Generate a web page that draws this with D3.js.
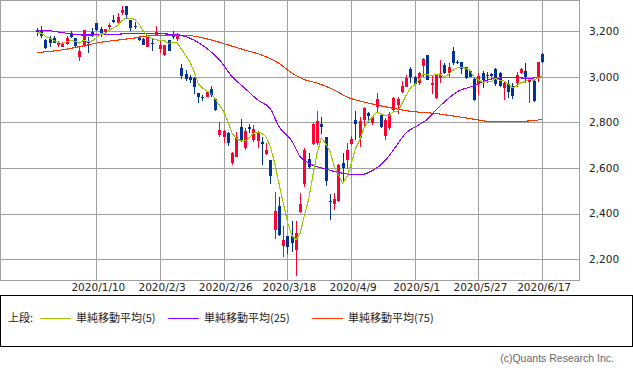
<!DOCTYPE html>
<html lang="ja">
<head>
<meta charset="utf-8">
<title>単純移動平均チャート</title>
<script src="https://cdn.jsdelivr.net/npm/d3@7"></script>
<style>
  body { margin: 0; background: #fff; }
  .axis text { font-family: "DejaVu Sans"; font-size: 10.5px; fill: #222; }
  .grid line { stroke: #a0a0a0; shape-rendering: crispEdges; }
  .frame { fill: none; stroke: #a0a0a0; shape-rendering: crispEdges; }
  .ma { fill: none; stroke-width: 1.1; shape-rendering: crispEdges; }
  .legend text { font-family: "Noto Sans CJK JP"; font-size: 11px; fill: #222; }
  .copy { font-family: "Liberation Sans"; font-size: 10.5px; fill: #666; }
</style>
</head>
<body>
<script>
// trading days (categories)
var dates = [
  "2019/12/17","2019/12/18","2019/12/19","2019/12/20","2019/12/23","2019/12/24","2019/12/25","2019/12/26","2019/12/27","2019/12/30",
  "2020/1/6","2020/1/7","2020/1/8","2020/1/9","2020/1/10","2020/1/14","2020/1/15","2020/1/16","2020/1/17","2020/1/20",
  "2020/1/21","2020/1/22","2020/1/23","2020/1/24","2020/1/27","2020/1/28","2020/1/29","2020/1/30","2020/1/31",
  "2020/2/3","2020/2/4","2020/2/5","2020/2/6","2020/2/7","2020/2/10","2020/2/12","2020/2/13","2020/2/14","2020/2/17",
  "2020/2/18","2020/2/19","2020/2/20","2020/2/21","2020/2/25","2020/2/26","2020/2/27","2020/2/28",
  "2020/3/2","2020/3/3","2020/3/4","2020/3/5","2020/3/6","2020/3/9","2020/3/10","2020/3/11","2020/3/12","2020/3/13",
  "2020/3/16","2020/3/17","2020/3/18","2020/3/19","2020/3/23","2020/3/24","2020/3/25","2020/3/26","2020/3/27","2020/3/30","2020/3/31",
  "2020/4/1","2020/4/2","2020/4/3","2020/4/6","2020/4/7","2020/4/8","2020/4/9","2020/4/10","2020/4/13","2020/4/14",
  "2020/4/15","2020/4/16","2020/4/17","2020/4/20","2020/4/21","2020/4/22","2020/4/23","2020/4/24","2020/4/27","2020/4/28","2020/4/30",
  "2020/5/1","2020/5/7","2020/5/8","2020/5/11","2020/5/12","2020/5/13","2020/5/14","2020/5/15","2020/5/18","2020/5/19",
  "2020/5/20","2020/5/21","2020/5/22","2020/5/25","2020/5/26","2020/5/27","2020/5/28","2020/5/29",
  "2020/6/1","2020/6/2","2020/6/3","2020/6/4","2020/6/5","2020/6/8","2020/6/9","2020/6/10","2020/6/11","2020/6/12",
  "2020/6/15","2020/6/16","2020/6/17"
];

var opens = [3208,3203,3164,3168,3169,3141,3133,3143,3188,3171, 3088,3135,3154,3197,3236,3209,3197,3218,3250,3238,
  3279,3311,3250,3224,3174,3168,3133,3150,3186,3121, 3096,3162,3186,3168,3039,3011,2999,2996,2928,2911,
  2914,2946,2902,2746,2735,2753,2624,2650,2779,2687, 2782,2724,2720,2716,2662,2633,2329,2434,2259,2300,
  2303,2238,2405,2531,2639,2705,2710,2794,2735,2456, 2440,2453,2624,2636,2706,2811,2731,2811,2841,2797,
  2870,2833,2741,2775,2855,2877,2936,2958,3034,3001, 2972,3048,3096,2965,2906,2994,3053,3016,3115,3067,
  3064,3042,3028,2990,2972,3019,3010,3012,3034,3018, 2950,2967,2960,2972,3017,3028,2976,2980,3001,3101];
var highs = [3214,3224,3166,3180,3180,3157,3152,3180,3203,3172, 3132,3208,3174,3214,3238,3220,3211,3235,3273,3279,
  3311,3313,3252,3241,3180,3170,3176,3165,3224,3162, 3140,3164,3200,3192,3058,3032,3007,2998,2930,2921,
  2940,2960,2904,2800,2765,2760,2670,2756,2814,2775, 2792,2791,2763,2735,2709,2635,2496,2472,2344,2302,
  2365,2365,2490,2687,2665,2797,2852,2823,2737,2487, 2490,2616,2665,2709,2742,2852,2826,2870,2848,2829,
  2928,2836,2819,2848,2910,2914,2984,3009,3045,3005, 3023,3082,3098,3004,3012,3074,3060,3060,3133,3075,
  3067,3045,3030,3001,3016,3025,3020,3016,3040,3022, 2980,2988,2975,3020,3040,3063,2993,2990,3064,3103];
var lows = [3178,3172,3122,3132,3147,3130,3131,3139,3170,3132, 3072,3133,3107,3177,3204,3177,3195,3209,3235,3236,
  3270,3256,3203,3209,3156,3140,3131,3115,3180,3104, 3094,3113,3168,3159,2993,2984,2972,2926,2884,2896,
  2912,2914,2850,2735,2709,2697,2614,2648,2716,2680, 2753,2715,2687,2614,2658,2528,2290,2300,2209,2222,
  2231,2127,2403,2516,2595,2700,2700,2750,2519,2373, 2417,2450,2534,2595,2700,2724,2694,2782,2797,2790,
  2841,2777,2724,2767,2850,2838,2928,2955,2972,2965, 2965,3001,2985,2925,2903,2972,3014,3001,3053,3055,
  3013,2990,2998,2896,2921,2950,2972,3000,2962,2958, 2899,2906,2902,2958,3014,2975,2887,2890,2979,3062];
var closes = [3198,3181,3125,3148,3151,3152,3150,3171,3177,3134, 3114,3206,3147,3190,3206,3193,3209,3227,3241,3264,
  3294,3273,3215,3221,3163,3142,3174,3145,3197,3139, 3139,3115,3177,3183,3004,2991,2986,2958,2912,2906,
  2935,2920,2853,2768,2763,2712,2668,2735,2724,2763, 2773,2770,2752,2706,2677,2563,2412,2307,2285,2251,
  2270,2314,2443,2677,2604,2794,2806,2782,2545,2449, 2463,2614,2599,2677,2729,2794,2808,2863,2829,2822,
  2902,2779,2811,2838,2906,2902,2961,2994,3001,2969, 3016,3077,2987,2972,3009,3019,3016,3042,3060,3060,
  3034,2994,3001,2899,3004,2988,3002,3006,2968,2962, 2974,2936,2918,3009,3036,3000,2985,2896,3064,3067];
// the four closes before the first visible day (needed for the 5-day average)
var priorCloses = [3185, 3195, 3190, 3200];

// 25 / 75 day averages (trading-day index, value)
var ma25At = [0,3,7,11,15,19,24,28,32,34,37,40,43,46,49,52,55,57,60,62,64,68,72,76,79,82,84,87,90,92,94,96,99,103,105,108,112,116,119];
var ma25Values = [3206,3203,3192,3184,3185,3188,3191,3190,3187,3183,3162,3126,3075,3001,2950,2899,2860,2782,2720,2650,2622,2595,2577,2570,2588,2632,2680,2755,2790,2814,2855,2890,2935,2962,2980,2994,2997,2994,3001];
var ma75At = [0,3,7,11,15,19,23,26,30,35,38,41,45,49,53,57,60,63,66,70,73,77,81,84,88,93,98,103,107,112,117,119];
var ma75Values = [3107,3112,3122,3137,3152,3162,3171,3180,3183,3183,3176,3163,3141,3118,3096,3060,3018,2988,2973,2943,2912,2890,2873,2862,2849,2841,2829,2814,2804,2804,2808,2814];

var xTickLabels = ["2020/1/10","2020/2/3","2020/2/26","2020/3/18","2020/4/9","2020/5/1","2020/5/27","2020/6/17"];
var yTicks = [2200, 2400, 2600, 2800, 3000, 3200];
var legendNames = ["単純移動平均(5)", "単純移動平均(25)", "単純移動平均(75)"];
var maColors = ["#99cc00", "#9900ff", "#ff3300"];
var upColor = "#ff0033", downColor = "#003399";

var w = 633, h = 374;
var plotW = 579, plotH = 280;

var svg = d3.select("body").append("svg")
    .attr("width", w)
    .attr("height", h);

svg.append("rect").attr("width", w).attr("height", h).attr("fill", "#fff");

var x = d3.scalePoint()
    .domain(dates)
    .range([0, plotW])
    .padding(8.7);

var y = d3.scaleLinear()
    .domain([2108, 3338])
    .range([plotH, 0]);

// grid
var grid = svg.append("g").attr("class", "grid");
grid.selectAll(".hg")
    .data(yTicks)
    .enter().append("line")
    .attr("x1", 0).attr("x2", plotW)
    .attr("y1", function(d) { return Math.round(y(d)) + 0.5; })
    .attr("y2", function(d) { return Math.round(y(d)) + 0.5; });
grid.selectAll(".vg")
    .data(xTickLabels)
    .enter().append("line")
    .attr("y1", 0).attr("y2", plotH)
    .attr("x1", function(d) { return Math.round(x(d)) + 0.5; })
    .attr("x2", function(d) { return Math.round(x(d)) + 0.5; });

svg.append("rect")
    .attr("class", "frame")
    .attr("x", 0.5).attr("y", 0.5)
    .attr("width", plotW).attr("height", plotH);

// candles
var candles = dates.map(function(d, i) {
  return { date: d, o: opens[i], h: highs[i], l: lows[i], c: closes[i] };
});

var cg = svg.append("g").attr("shape-rendering", "crispEdges");
var cs = cg.selectAll("g")
    .data(candles)
    .enter().append("g");

cs.append("line")
    .attr("x1", function(d) { return Math.round(x(d.date)) + 0.5; })
    .attr("x2", function(d) { return Math.round(x(d.date)) + 0.5; })
    .attr("y1", function(d) { return Math.round(y(d.h)); })
    .attr("y2", function(d) { return Math.round(y(d.l)); })
    .attr("stroke", function(d) { return d.c >= d.o ? upColor : downColor; });

cs.append("rect")
    .attr("x", function(d) { return Math.round(x(d.date)) - 1; })
    .attr("width", 3)
    .attr("y", function(d) { return Math.round(y(Math.max(d.o, d.c))); })
    .attr("height", function(d) {
      return Math.max(1, Math.round(y(Math.min(d.o, d.c))) - Math.round(y(Math.max(d.o, d.c))));
    })
    .attr("fill", function(d) { return d.c >= d.o ? upColor : downColor; });

// moving averages
var allCloses = priorCloses.concat(closes);
var ma5 = closes.map(function(c, i) {
  return { date: dates[i], v: d3.mean(allCloses.slice(i, i + 5)) };
});
var ma25 = ma25At.map(function(k, j) { return { date: dates[k], v: ma25Values[j] }; });
var ma75 = ma75At.map(function(k, j) { return { date: dates[k], v: ma75Values[j] }; });

var line = d3.line()
    .x(function(d) { return x(d.date); })
    .y(function(d) { return y(d.v); });
var smooth = d3.line()
    .curve(d3.curveMonotoneX)
    .x(function(d) { return x(d.date); })
    .y(function(d) { return y(d.v); });

svg.append("path").datum(ma75).attr("class", "ma").attr("stroke", maColors[2]).attr("d", smooth);
svg.append("path").datum(ma25).attr("class", "ma").attr("stroke", maColors[1]).attr("d", smooth);
svg.append("path").datum(ma5).attr("class", "ma").attr("stroke", maColors[0]).attr("d", line);

// axes
var yAxis = d3.axisRight(y)
    .tickValues(yTicks)
    .tickSize(0)
    .tickPadding(10)
    .tickFormat(d3.format(","));
svg.append("g")
    .attr("class", "axis")
    .attr("transform", "translate(" + plotW + ",0)")
    .call(yAxis)
    .select(".domain").remove();

var xAxis = d3.axisBottom(x)
    .tickValues(xTickLabels)
    .tickSize(0)
    .tickPadding(4);
var xg = svg.append("g")
    .attr("class", "axis")
    .attr("transform", "translate(0," + plotH + ")")
    .call(xAxis);
xg.select(".domain").remove();
xg.selectAll("text").attr("dx", 1.5);

// legend box
svg.append("rect")
    .attr("x", 0.5).attr("y", 295.5)
    .attr("width", 632).attr("height", 51)
    .attr("fill", "none").attr("stroke", "#000");

var lg = svg.append("g").attr("class", "legend");
lg.append("text").attr("x", 8).attr("y", 318).attr("dy", "0.35em").text("上段:");
var legendX = [40, 168, 312];
legendNames.forEach(function(name, k) {
  lg.append("line")
      .attr("x1", legendX[k]).attr("x2", legendX[k] + 31)
      .attr("y1", 318.5).attr("y2", 318.5)
      .attr("stroke", maColors[k])
      .attr("shape-rendering", "crispEdges");
  lg.append("text")
      .attr("x", legendX[k] + 36).attr("y", 318).attr("dy", "0.35em")
      .text(name);
});

svg.append("text")
    .attr("class", "copy")
    .attr("x", 614).attr("y", 362)
    .attr("text-anchor", "end")
    .text("(c)Quants Research Inc.");
</script>
</body>
</html>
